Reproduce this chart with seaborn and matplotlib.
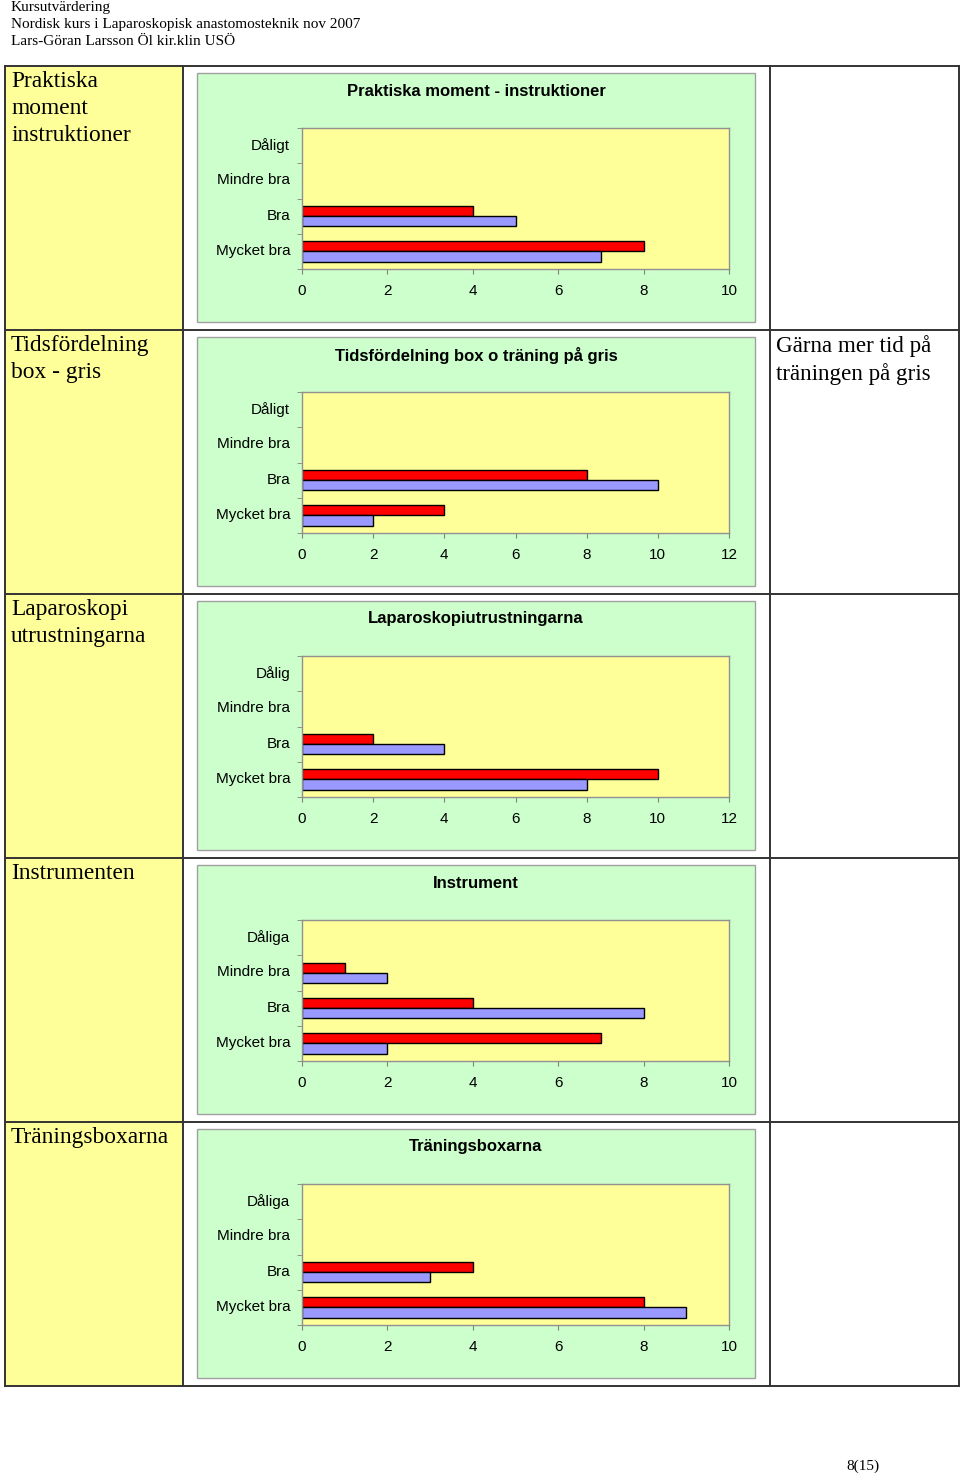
import numpy as np
import pandas as pd
import seaborn as sns
import matplotlib.pyplot as plt
from matplotlib.patches import Rectangle
from matplotlib.lines import Line2D
from matplotlib.transforms import ScaledTranslation

#%%
# Data (two groups: red and blue)
row_labels = ["Praktiska\nmoment\ninstruktioner", "Tidsfördelning\nbox - gris",
              "Laparoskopi\nutrustningarna", "Instrumenten", "Träningsboxarna"]
comments = ["", "Gärna mer tid på\nträningen på gris", "", "", ""]
titles = ["Praktiska moment - instruktioner", "Tidsfördelning box o träning på gris",
          "Laparoskopiutrustningarna", "Instrument", "Träningsboxarna"]

cats_praktiska = ["Dåligt", "Mindre bra", "Bra", "Mycket bra"]
cats_tid = ["Dåligt", "Mindre bra", "Bra", "Mycket bra"]
cats_lap = ["Dålig", "Mindre bra", "Bra", "Mycket bra"]
cats_instr = ["Dåliga", "Mindre bra", "Bra", "Mycket bra"]
cats_box = ["Dåliga", "Mindre bra", "Bra", "Mycket bra"]

red_praktiska = [0, 0, 4, 8]
blue_praktiska = [0, 0, 5, 7]
red_tid = [0, 0, 8, 4]
blue_tid = [0, 0, 10, 2]
red_lap = [0, 0, 2, 10]
blue_lap = [0, 0, 4, 8]
red_instr = [0, 1, 4, 7]
blue_instr = [0, 2, 8, 2]
red_box = [0, 0, 4, 8]
blue_box = [0, 0, 3, 9]

x_max = [10, 12, 12, 10, 10]
x_step = [2, 2, 2, 2, 2]

charts = [
    (cats_praktiska, red_praktiska, blue_praktiska),
    (cats_tid, red_tid, blue_tid),
    (cats_lap, red_lap, blue_lap),
    (cats_instr, red_instr, blue_instr),
    (cats_box, red_box, blue_box),
]

#%%
W, H = 960, 1474
plt.rcParams['font.family'] = ['Liberation Sans', 'DejaVu Sans']
fig = plt.figure(figsize=(W / 100, H / 100), dpi=100)
fig.patch.set_facecolor("white")


def fx(px):
    return px / W


def fy(py):
    return 1 - py / H


def fig_rect(x0, y0, x1, y1, **kw):
    r = Rectangle((fx(x0), fy(y1)), fx(x1) - fx(x0), fy(y0) - fy(y1),
                  transform=fig.transFigure, **kw)
    fig.add_artist(r)


def fig_line(xs, ys, **kw):
    fig.add_artist(Line2D([fx(v) for v in xs], [fy(v) for v in ys],
                          transform=fig.transFigure, **kw))


serif = ['Liberation Serif', 'DejaVu Serif']

# page header
fig.text(fx(11), fy(1), "Kursutvärdering\nNordisk kurs i Laparoskopisk anastomosteknik nov 2007\n"
         "Lars-Göran Larsson Öl kir.klin USÖ", family=serif, fontsize=11,
         va="top", ha="left", linespacing=1.42)

row_top = 66
row_h = 264
colors = ["#FF0000", "#9999FF"]
nudge = ScaledTranslation(0, 2 / 100, fig.dpi_scale_trans)

for i, (cats, red, blue) in enumerate(charts):
    top = row_top + i * row_h
    # yellow label cell
    fig_rect(5, top, 183, top + row_h, facecolor="#FFFF99", edgecolor="none", zorder=-2)
    fig.text(fx(11), fy(top + 5), row_labels[i], family=serif, fontsize=16.8,
             va="top", ha="left", linespacing=1.38)
    if comments[i]:
        fig.text(fx(776), fy(top + 5), comments[i], family=serif, fontsize=16.6,
                 va="top", ha="left", linespacing=1.38)
    # green chart box
    fig_rect(197, top + 7, 755, top + 256, facecolor="#CCFFCC", edgecolor="#A0A0A0",
             linewidth=1, zorder=-1)
    fig.text(fx(476), fy(top + 25), titles[i], fontsize=12, fontweight="bold",
             ha="center", va="center")

    df = pd.DataFrame({
        "kategori": cats * 2,
        "antal": red + blue,
        "grupp": ["A"] * len(cats) + ["B"] * len(cats),
    })
    df = df[df["antal"] > 0]

    ax = fig.add_axes([fx(302), fy(top + 203), fx(729) - fx(302), fy(top + 62) - fy(top + 203)])
    sns.barplot(data=df, x="antal", y="kategori", hue="grupp", order=cats,
                hue_order=["A", "B"], palette=colors, orient="h", width=0.58,
                edgecolor="black", linewidth=1, saturation=1, legend=False, ax=ax)
    ax.set_facecolor("#FFFF99")
    ax.set_xlim(0, x_max[i])
    ax.set_ylim(3.5, -0.5)
    ax.set_xticks(np.arange(0, x_max[i] + 1, x_step[i]))
    ax.set_yticks(range(len(cats)))
    ax.set_yticklabels(cats)
    ax.set_yticks(np.arange(-0.5, len(cats), 1), minor=True)
    ax.tick_params(axis="y", which="major", length=0, pad=8.5, labelsize=11)
    ax.tick_params(axis="y", which="minor", length=3.5, direction="out", color="#808080")
    ax.tick_params(axis="x", which="major", length=3.5, direction="out", color="#808080",
                   pad=7.5, labelsize=11)
    for lab in ax.get_yticklabels():
        lab.set_transform(lab.get_transform() + nudge)
    ax.set_xlabel("")
    ax.set_ylabel("")
    for s in ax.spines.values():
        s.set_color("#909090")
        s.set_linewidth(1)

# table grid
grid_kw = dict(color="#333333", linewidth=1.4, zorder=5)
for k in range(6):
    y = row_top + k * row_h
    fig_line([5, 959], [y, y], **grid_kw)
for x in [5, 183, 770, 959]:
    fig_line([x, x], [row_top, row_top + 5 * row_h], **grid_kw)

fig.text(fx(863), fy(1466), "8(15)", family=serif, fontsize=11, ha="center", va="center")

fig.savefig("out.png", dpi=100)
